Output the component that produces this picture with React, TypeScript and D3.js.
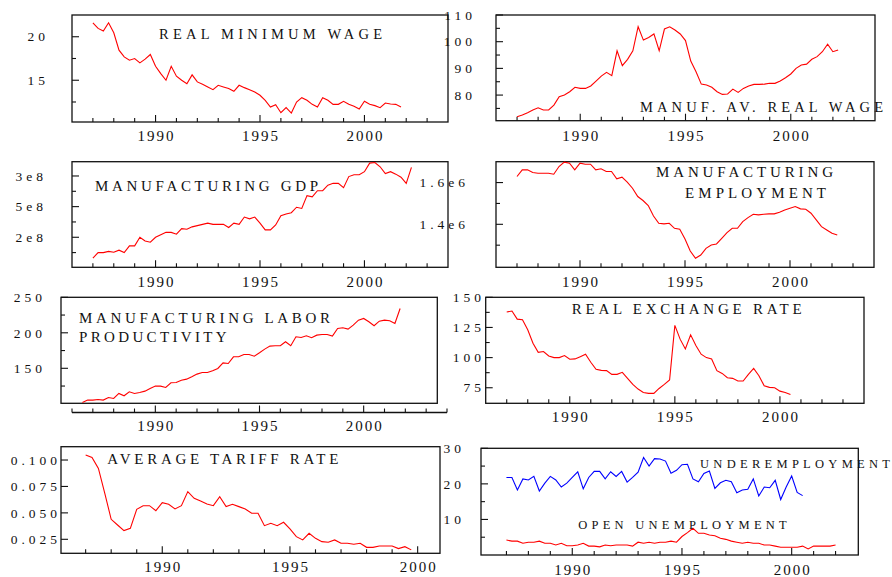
import * as d3 from "d3"

// quarterly series (first value = first quarter of start year)
const minWageStart = 1987
const minWage = [
  21.6, 20.96, 20.65, 21.6, 20.46, 18.46, 17.69, 17.3, 17.5, 17.0, 17.42, 17.96,
  16.6, 15.77, 15.0, 16.6, 15.46, 15.0, 14.6, 15.62, 14.81, 14.54, 14.23, 13.92,
  14.42, 14.23, 14.04, 13.73, 14.42, 14.15, 13.92, 13.65, 13.27, 12.69, 11.92, 12.19,
  11.27, 11.85, 11.23, 12.5, 13.0, 12.69, 12.23, 11.92, 13.0, 12.69, 12.23, 12.23,
  12.58, 12.23, 12.0, 11.69, 12.58, 12.23, 12.08, 11.85, 12.38, 12.27, 12.23, 11.92,
]

const manufWageStart = 1987
const manufWage = [
  71.9, 72.5, 73.4, 74.4, 75.25, 74.4, 74.4, 76.25, 79.4, 80.0, 81.25, 82.9,
  82.5, 82.5, 83.4, 85.25, 87.1, 88.5, 87.25, 96.6, 91.0, 93.4, 96.6, 105.6,
  100.6, 101.6, 102.9, 96.6, 104.75, 105.6, 104.4, 102.9, 100.4, 92.75, 88.75, 84.1,
  83.75, 82.9, 81.25, 80.25, 80.4, 82.25, 81.0, 82.5, 83.4, 84.0, 84.0, 84.1,
  84.4, 84.4, 85.25, 86.5, 87.9, 90.0, 91.25, 91.6, 93.4, 94.4, 96.25, 99.1,
  96.25, 96.9,
]

// manufacturing GDP, x 1e8
const gdpStart = 1987
const manufGdp = [
  1.66, 1.75, 1.75, 1.77, 1.755, 1.79, 1.75, 1.86, 1.86, 2.0, 1.94, 1.92,
  2.0, 2.04, 2.08, 2.08, 2.05, 2.14, 2.13, 2.17, 2.19, 2.21, 2.23, 2.21,
  2.21, 2.21, 2.16, 2.23, 2.21, 2.33, 2.3, 2.33, 2.23, 2.12, 2.12, 2.2,
  2.35, 2.38, 2.4, 2.49, 2.47, 2.68, 2.66, 2.76, 2.76, 2.85, 2.88, 2.88,
  2.81, 2.99, 3.02, 3.02, 3.07, 3.21, 3.22, 3.15, 3.04, 3.07, 3.03, 2.98,
  2.88, 3.14,
]
const gdpTicks = [3.0, 2.5, 2.0]
const gdpTickLabels = ["3e8", "5e8", "2e8"]

// manufacturing employment, x 1e6
const empStart = 1987
const manufEmp = [
  1.629, 1.661, 1.661, 1.648, 1.645, 1.645, 1.645, 1.64, 1.677, 1.698, 1.693, 1.661,
  1.693, 1.688, 1.688, 1.661, 1.666, 1.653, 1.653, 1.618, 1.626, 1.602, 1.573, 1.533,
  1.514, 1.49, 1.44, 1.405, 1.402, 1.405, 1.381, 1.376, 1.33, 1.272, 1.237, 1.253,
  1.285, 1.301, 1.306, 1.333, 1.36, 1.381, 1.381, 1.413, 1.432, 1.448, 1.445, 1.448,
  1.45, 1.45, 1.458, 1.469, 1.477, 1.485, 1.474, 1.472, 1.453, 1.421, 1.389, 1.373,
  1.357, 1.349,
]
const empTicks = [1.6, 1.4]
const empTickLabels = ["1.6e6", "1.4e6"]

const prodStart = 1986.5
const laborProd = [
  101.9, 105.2, 105.2, 106.1, 105.2, 108.9, 107.5, 114.6, 111.3, 116.9, 114.6, 116.0,
  117.8, 121.6, 124.9, 124.9, 123.0, 129.6, 130.0, 133.3, 134.7, 138.0, 141.8, 144.1,
  144.1, 146.5, 149.8, 157.7, 156.8, 166.2, 166.2, 169.5, 169.5, 167.1, 171.8, 177.0,
  181.2, 181.7, 181.7, 187.3, 181.7, 194.4, 193.4, 195.8, 193.0, 196.7, 197.7, 197.7,
  195.3, 206.1, 207.0, 205.2, 210.8, 217.8, 220.2, 215.5, 209.9, 216.4, 217.8, 216.9,
  213.1, 234.3,
]

const rerStart = 1987
const realExRate = [
  137.8, 138.6, 131.9, 131.4, 123.1, 111.9, 104.4, 105.0, 101.4, 100.0, 100.0, 101.7,
  98.6, 98.9, 100.8, 102.8, 96.1, 90.3, 89.4, 89.2, 86.1, 86.1, 87.8, 82.8,
  77.8, 73.9, 71.1, 70.3, 70.3, 74.4, 77.8, 81.4, 126.7, 115.3, 107.2, 118.9,
  110.0, 102.8, 100.0, 98.9, 89.2, 86.9, 83.3, 82.8, 80.6, 80.6, 86.1, 91.1,
  85.0, 76.7, 75.3, 75.0, 72.2, 71.1, 69.4,
]

const tariffStart = 1987
const tariffRate = [
  0.1047, 0.1025, 0.0921, 0.0685, 0.0439, 0.0385, 0.0332, 0.0354, 0.0534, 0.0568, 0.0568, 0.0521,
  0.0597, 0.0581, 0.0537, 0.0568, 0.0701, 0.0638, 0.0612, 0.0584, 0.0568, 0.0653, 0.0559, 0.0581,
  0.0559, 0.0537, 0.0496, 0.0496, 0.0379, 0.0401, 0.0379, 0.0411, 0.0348, 0.0275, 0.0244, 0.0307,
  0.0259, 0.0228, 0.0222, 0.0244, 0.0212, 0.0212, 0.0203, 0.0212, 0.0174, 0.0174, 0.0187, 0.0187,
  0.0187, 0.0162, 0.018, 0.015,
]
const tariffTicks = [0.1, 0.075, 0.05, 0.025]
const tariffTickLabels = ["0.100", "0.075", "0.050", "0.025"]

const unempStart = 1987
const underEmp = [
  21.8, 21.8, 18.3, 21.4, 21.1, 22.1, 18.0, 20.2, 22.1, 21.1, 19.1, 20.2,
  21.8, 23.4, 18.6, 21.8, 23.5, 23.5, 21.4, 23.4, 22.1, 23.5, 20.5, 21.8,
  23.3, 27.4, 25.0, 27.1, 27.0, 26.4, 23.0, 23.8, 25.4, 25.5, 21.4, 20.6,
  22.9, 23.6, 18.7, 20.3, 21.0, 20.6, 17.5, 18.3, 18.5, 21.4, 16.6, 19.1,
  18.9, 21.0, 15.6, 19.1, 22.2, 17.6, 16.7,
]
const openUnemp = [
  4.2, 3.9, 3.9, 3.3, 3.6, 3.6, 3.9, 3.3, 3.3, 2.8, 3.3, 2.6,
  2.6, 2.8, 3.3, 2.5, 2.5, 2.3, 2.8, 2.6, 2.8, 2.8, 2.8, 2.5,
  3.6, 3.3, 3.6, 3.3, 3.6, 3.6, 3.9, 3.6, 5.2, 6.3, 7.5, 6.1,
  6.1, 5.6, 5.4, 4.7, 4.4, 3.9, 3.6, 3.3, 3.6, 3.3, 3.3, 2.8,
  2.8, 2.5, 2.2, 2.2, 2.2, 2.2, 2.5, 1.7, 2.5, 2.5, 2.5, 2.5,
  2.8,
]

const yearLabels = [1990, 1995, 2000]

const RED = "#ff0000"
const BLUE = "#0000ff"
const FONT = "'Liberation Serif', 'Times New Roman', serif"

type Pt = { t: number; v: number }
type Series = { start: number; values: number[]; color: string }
type Title = { text: string; x: number; y: number; w: number; size?: number }
type PanelCfg = {
  box: [number, number, number, number]
  xDomain: [number, number]
  xRange: [number, number]
  tickYears: [number, number]
  labelY: number
  sepAxis?: number
  yDomain: [number, number]
  yMajor: number[]
  yMinor: number[]
  yLabels: string[]
  yLabelRight: number
  series: Series[]
  titles: Title[]
}

const fmt = (v: number) => String(v)

const panels: PanelCfg[] = [
  {
    box: [72, 15, 448, 122], xDomain: [1986, 2004], xRange: [72, 448], tickYears: [1987, 2003], labelY: 141,
    yDomain: [10.2, 22.5], yMajor: [20, 15], yMinor: [17.5, 12.5], yLabels: [20, 15].map(fmt), yLabelRight: 45,
    series: [{ start: minWageStart, values: minWage, color: RED }],
    titles: [{ text: "REAL MINIMUM WAGE", x: 159, y: 39, w: 223, size: 14.5 }],
  },
  {
    box: [496, 15, 875, 120.7], xDomain: [1986, 2004], xRange: [496, 875], tickYears: [1987, 2003], labelY: 141,
    yDomain: [70.4, 110], yMajor: [110, 100, 90, 80], yMinor: [105, 95, 85, 75], yLabels: [110, 100, 90, 80].map(fmt), yLabelRight: 472,
    series: [{ start: manufWageStart, values: manufWage, color: RED }],
    titles: [{ text: "MANUF. AV. REAL WAGE", x: 640, y: 111.7, w: 243, size: 14.5 }],
  },
  {
    box: [72, 161.7, 448, 267.3], xDomain: [1986, 2004], xRange: [72, 448], tickYears: [1987, 2003], labelY: 287,
    yDomain: [1.51, 3.233], yMajor: gdpTicks, yMinor: [2.75, 2.25, 1.75], yLabels: gdpTickLabels, yLabelRight: 43,
    series: [{ start: gdpStart, values: manufGdp, color: RED }],
    titles: [{ text: "MANUFACTURING GDP", x: 95, y: 191, w: 223 }],
  },
  {
    box: [496, 161.7, 874, 267.3], xDomain: [1986, 2004], xRange: [496, 874], tickYears: [1987, 2003], labelY: 287,
    yDomain: [1.194, 1.7], yMajor: empTicks, yMinor: [1.5, 1.3], yLabels: empTickLabels, yLabelRight: 465,
    series: [{ start: empStart, values: manufEmp, color: RED }],
    titles: [
      { text: "MANUFACTURING", x: 656, y: 176.7, w: 177 },
      { text: "EMPLOYMENT", x: 685, y: 197.7, w: 141 },
    ],
  },
  {
    box: [61, 297.3, 437.3, 403.3], xDomain: [1986, 2004], xRange: [72, 447], tickYears: [1986, 2004], labelY: 431,
    sepAxis: 412.5,
    yDomain: [100.7, 250], yMajor: [250, 200, 150], yMinor: [225, 175, 125], yLabels: [250, 200, 150].map(fmt), yLabelRight: 42,
    series: [{ start: prodStart, values: laborProd, color: RED }],
    titles: [
      { text: "MANUFACTURING LABOR", x: 79, y: 322.7, w: 251 },
      { text: "PRODUCTIVITY", x: 79, y: 342.3, w: 147.7 },
    ],
  },
  {
    box: [485.7, 297.3, 864, 403.3], xDomain: [1986, 2004], xRange: [485.7, 864], tickYears: [1987, 2003], labelY: 422,
    yDomain: [62.1, 150], yMajor: [150, 125, 100, 75], yMinor: [137.5, 112.5, 87.5], yLabels: [150, 125, 100, 75].map(fmt), yLabelRight: 481,
    series: [{ start: rerStart, values: realExRate, color: RED }],
    titles: [{ text: "REAL EXCHANGE RATE", x: 571.7, y: 314, w: 230 }],
  },
  {
    box: [61, 446.7, 440, 553.3], xDomain: [1986, 2001], xRange: [60.1, 443.2], tickYears: [1987, 2000], labelY: 571.5,
    yDomain: [0.01176, 0.1126], yMajor: tariffTicks, yMinor: [], yLabels: tariffTickLabels, yLabelRight: 57,
    series: [{ start: tariffStart, values: tariffRate, color: RED }],
    titles: [{ text: "AVERAGE TARIFF RATE", x: 107.3, y: 464.3, w: 231 }],
  },
  {
    box: [481, 448.3, 858.3, 555], xDomain: [1986, 2003], xRange: [484.5, 857.5], tickYears: [1987, 2002], labelY: 574.5,
    yDomain: [0, 30], yMajor: [30, 20, 10], yMinor: [25, 15, 5], yLabels: [30, 20, 10].map(fmt), yLabelRight: 461,
    series: [
      { start: unempStart, values: underEmp, color: BLUE },
      { start: unempStart, values: openUnemp, color: RED },
    ],
    titles: [
      { text: "UNDEREMPLOYMENT", x: 700, y: 467.7, w: 190, size: 12.5 },
      { text: "OPEN UNEMPLOYMENT", x: 578.3, y: 529.3, w: 208.4, size: 12.5 },
    ],
  },
]

function Panel({ cfg }: { cfg: PanelCfg }) {
  const [l, t, r, b] = cfg.box
  const x = d3.scaleLinear().domain(cfg.xDomain).range(cfg.xRange)
  const y = d3.scaleLinear().domain(cfg.yDomain).range([b, t])
  const axisY = cfg.sepAxis ?? b
  const years = d3.range(cfg.tickYears[0], cfg.tickYears[1] + 1)
  const line = d3.line<Pt>().x((d) => x(d.t)).y((d) => y(d.v))
  const ink = "#111"

  return (
    <g>
      <rect x={l} y={t} width={r - l} height={b - t} fill="none" stroke={ink} strokeWidth={1.3} />
      {cfg.sepAxis !== undefined && (
        <line x1={cfg.xRange[0]} x2={cfg.xRange[1]} y1={axisY} y2={axisY} stroke={ink} strokeWidth={1.3} />
      )}
      {/* y ticks */}
      {cfg.yMajor.map((v) => (
        <line key={"M" + v} x1={l} x2={l + 7} y1={y(v)} y2={y(v)} stroke={ink} strokeWidth={1.1} />
      ))}
      {cfg.yMinor.map((v) => (
        <line key={"m" + v} x1={l} x2={l + 4} y1={y(v)} y2={y(v)} stroke={ink} strokeWidth={1.1} />
      ))}
      {cfg.yMajor.map((v, i) => (
        <text key={"L" + v} x={cfg.yLabelRight + 4} y={y(v)} dy="0.35em" textAnchor="end"
          fontFamily={FONT} fontSize={13.5} style={{ letterSpacing: "4px" }} fill="#111">
          {cfg.yLabels[i]}
        </text>
      ))}
      {/* x ticks */}
      {years.map((yr) => {
        const major = yearLabels.includes(yr)
        return (
          <line key={"x" + yr} x1={x(yr)} x2={x(yr)} y1={axisY} y2={axisY - (major ? 7 : 4)} stroke={ink} strokeWidth={1.1} />
        )
      })}
      {yearLabels.map((yr) => (
        <text key={"xl" + yr} x={x(yr) + 1} y={cfg.labelY} textAnchor="middle"
          fontFamily={FONT} fontSize={15} style={{ letterSpacing: "2px" }} fill="#111">
          {yr}
        </text>
      ))}
      {cfg.series.map((s, i) => {
        const pts: Pt[] = s.values.map((v, k) => ({ t: s.start + k * 0.25, v }))
        return <path key={"s" + i} d={line(pts) || ""} fill="none" stroke={s.color} strokeWidth={1.1} />
      })}
      {cfg.titles.map((tt) => (
        <text key={tt.text} x={tt.x} y={tt.y} fontFamily={FONT} fontSize={tt.size ?? 15}
          textLength={tt.w} lengthAdjust="spacing" fill="#111">
          {tt.text}
        </text>
      ))}
    </g>
  )
}

export default function App() {
  return (
    <div style={{ position: "absolute", left: 0, top: 0 }}>
      <svg width={892} height={577} style={{ display: "block", background: "#fff" }}>
        {panels.map((p, i) => (
          <Panel key={i} cfg={p} />
        ))}
      </svg>
    </div>
  )
}
